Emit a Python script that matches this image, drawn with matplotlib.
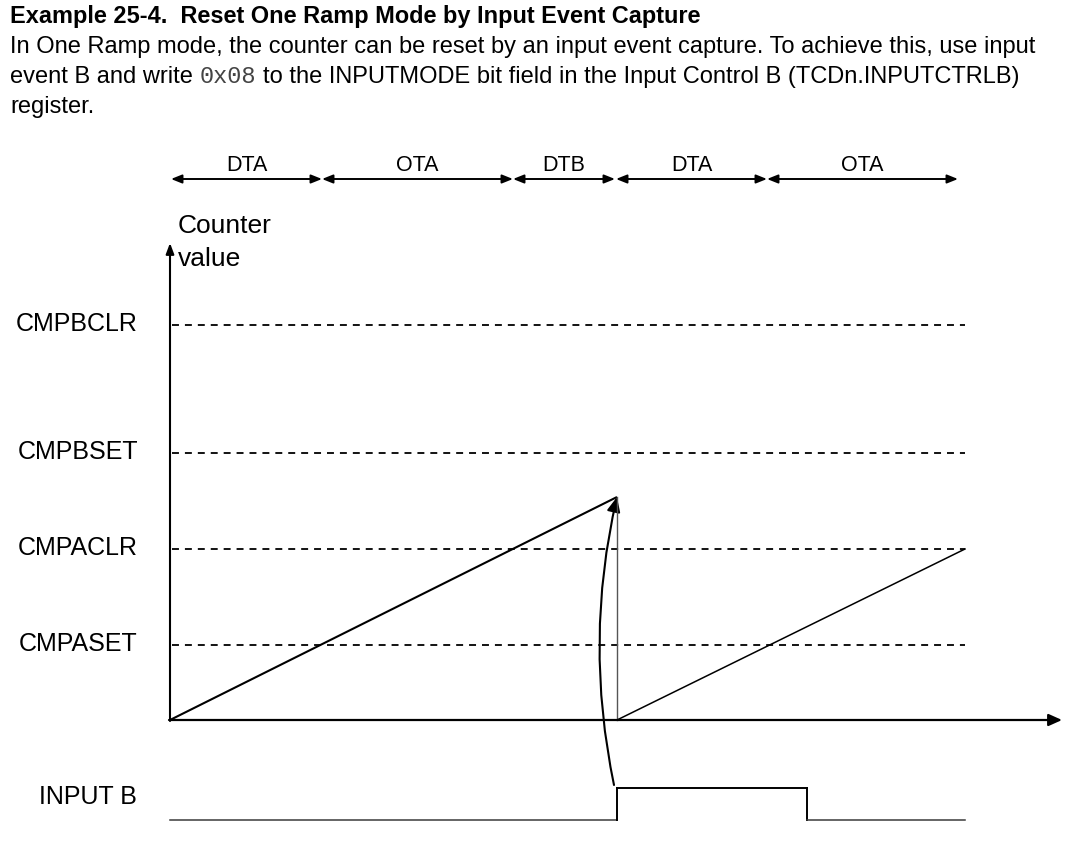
import matplotlib
matplotlib.use("Agg")
import matplotlib.pyplot as plt
from matplotlib.patches import FancyArrowPatch

plt.rcParams['font.family'] = ['Liberation Sans', 'DejaVu Sans']
plt.rcParams['lines.scale_dashes'] = False

# compare levels (counter value) and their names
level_names = ['CMPASET', 'CMPACLR', 'CMPBSET', 'CMPBCLR']
level_values = [75, 171, 267, 395]

# counter ramps (time, counter value)
ramp1_t = [0, 447]
ramp1_c = [0, 223]
ramp2_t = [447, 795]
ramp2_c = [0, 171]
reset_t = 447

# INPUT B waveform (0 = low, 1 = high)
inputb_t = [0, 447, 447, 637, 637, 795]
inputb_v = [0, 0, 1, 1, 0, 0]

# output phases across the top
phase_names = ['DTA', 'OTA', 'DTB', 'DTA', 'OTA']
phase_start = [1, 152, 343, 446, 597]
phase_end = [152, 343, 445, 597, 788]

title = "Example 25-4.  Reset One Ramp Mode by Input Event Capture"
body1 = ("In One Ramp mode, the counter can be reset by an input event capture. "
         "To achieve this, use input")
body2a = "event B and write"
body2_code = "0x08"
body2b = "to the INPUTMODE bit field in the Input Control B (TCDn.INPUTCTRLB)"
body3 = "register."

t_end = 795
x_axis_end = 892
y_axis_end = 477
phase_y = 541
inb_low, inb_high = -100, -68

fig = plt.figure(figsize=(10.65, 8.55), dpi=100)
ax = fig.add_axes([0, 0, 1, 1])
ax.set_xlim(-170, 895)
ax.set_ylim(-135, 720)
ax.axis('off')

# text block at the top
fs = 17
ax.text(-160, 697, title, fontsize=16.9, fontweight='bold', va='baseline', ha='left')
ax.text(-160, 667, body1, fontsize=fs, va='baseline', ha='left')
t1 = ax.text(-160, 637, body2a, fontsize=fs, va='baseline', ha='left')
ax.text(-160, 607, body3, fontsize=fs, va='baseline', ha='left')

fig.canvas.draw()
r = fig.canvas.get_renderer()
inv = ax.transData.inverted()
bb = t1.get_window_extent(r)
xc = inv.transform((bb.x1 + 6.6, 0))[0]
t2 = ax.text(xc, 637, body2_code, fontsize=fs, family='Liberation Mono',
             color='#444444', va='baseline', ha='left')
bb = t2.get_window_extent(r)
xc = inv.transform((bb.x1 + 6.6, 0))[0]
ax.text(xc, 637, body2b, fontsize=fs, va='baseline', ha='left')

# phase arrows
for name, s, e in zip(phase_names, phase_start, phase_end):
    ax.annotate('', xy=(e, phase_y), xytext=(s, phase_y),
                arrowprops=dict(arrowstyle='<|-|>,head_length=0.8,head_width=0.32',
                                mutation_scale=8, color='black', lw=1.4,
                                shrinkA=0, shrinkB=0))
    ax.text((s + e) / 2, 549, name, fontsize=15.5, ha='center', va='baseline')

# axes of the diagram
ax.annotate('', xy=(0, y_axis_end), xytext=(0, -1),
            arrowprops=dict(arrowstyle='-|>,head_length=0.8,head_width=0.3',
                            mutation_scale=8, color='black', lw=1.5,
                            shrinkA=0, shrinkB=0))
ax.annotate('', xy=(x_axis_end, 0), xytext=(-1, 0),
            arrowprops=dict(arrowstyle='-|>,head_length=1.0,head_width=0.45',
                            mutation_scale=8, color='black', lw=1.6,
                            shrinkA=0, shrinkB=0))
ax.text(8, 487, 'Counter', fontsize=19, ha='left', va='baseline')
ax.text(8, 454, 'value', fontsize=19, ha='left', va='baseline')

# compare levels
for name, v in zip(level_names, level_values):
    ax.plot([2, t_end], [v, v], color='black', lw=1.3, dashes=(5, 4.3))
    ax.text(-32, v - 6, name, fontsize=18, ha='right', va='baseline')

# counter ramps
ax.plot(ramp1_t, ramp1_c, color='black', lw=1.5, solid_capstyle='butt')
ax.plot([reset_t, reset_t], [0, ramp1_c[-1]], color='#555555', lw=1.0)
ax.plot(ramp2_t, ramp2_c, color='black', lw=1.1)

# INPUT B: low stretches drawn thinner, high pulse and edges black
inb_c = [inb_low + v * (inb_high - inb_low) for v in inputb_v]
for i in range(len(inputb_t) - 1):
    seg_t = inputb_t[i:i + 2]
    seg_c = inb_c[i:i + 2]
    low = inputb_v[i] == 0 and inputb_v[i + 1] == 0
    ax.plot(seg_t, seg_c, color='#3a3a3a' if low else 'black',
            lw=1.1 if low else 1.4, solid_capstyle='projecting')
ax.text(-33, -84, 'INPUT B', fontsize=18, ha='right', va='baseline')

# event capture arrow
arr = FancyArrowPatch((reset_t - 3, inb_high + 3), (reset_t, ramp1_c[-1]),
                      connectionstyle='arc3,rad=-0.11',
                      arrowstyle='-|>,head_length=1.1,head_width=0.5',
                      mutation_scale=8, color='black', lw=1.5,
                      shrinkA=0, shrinkB=0)
ax.add_patch(arr)

fig.savefig('out.png', dpi=100)
